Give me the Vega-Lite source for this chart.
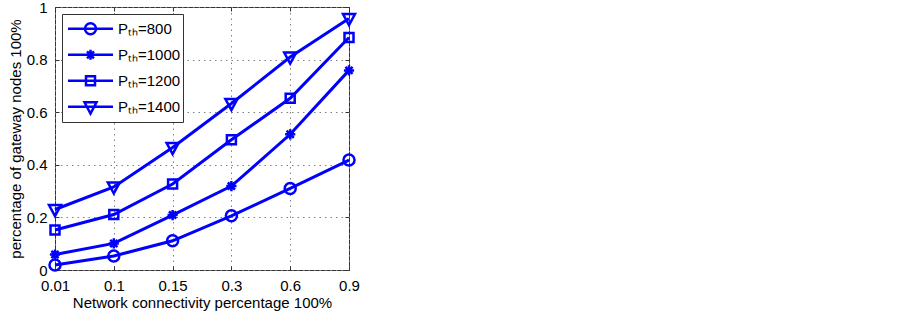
{
  "$schema": "https://vega.github.io/schema/vega-lite/v6.json",
  "autosize": {"type": "none"},
  "padding": {"left": 55, "top": 7, "right": 554, "bottom": 43},
  "width": 294,
  "height": 263,
  "background": "white",
  "config": {
    "view": {"stroke": "#333333", "strokeWidth": 1},
    "font": "Liberation Sans",
    "axis": {
      "labelFont": "Liberation Sans",
      "labelFontSize": 15,
      "labelColor": "black",
      "titleFont": "Liberation Sans",
      "titleFontSize": 15,
      "titleFontWeight": "normal",
      "titleColor": "black",
      "domain": false,
      "tickColor": "#333333",
      "tickSize": -4,
      "gridColor": "#808080",
      "gridDash": [1.5, 4],
      "gridWidth": 1
    }
  },
  "data": {
    "values": [
      {"x": "0.01", "s": "Pₜₕ=800", "y": 0.019},
      {"x": "0.1", "s": "Pₜₕ=800", "y": 0.053},
      {"x": "0.15", "s": "Pₜₕ=800", "y": 0.111},
      {"x": "0.3", "s": "Pₜₕ=800", "y": 0.206},
      {"x": "0.6", "s": "Pₜₕ=800", "y": 0.31},
      {"x": "0.9", "s": "Pₜₕ=800", "y": 0.418},
      {"x": "0.01", "s": "Pₜₕ=1000", "y": 0.059},
      {"x": "0.1", "s": "Pₜₕ=1000", "y": 0.101},
      {"x": "0.15", "s": "Pₜₕ=1000", "y": 0.209},
      {"x": "0.3", "s": "Pₜₕ=1000", "y": 0.319},
      {"x": "0.6", "s": "Pₜₕ=1000", "y": 0.516},
      {"x": "0.9", "s": "Pₜₕ=1000", "y": 0.759},
      {"x": "0.01", "s": "Pₜₕ=1200", "y": 0.152},
      {"x": "0.1", "s": "Pₜₕ=1200", "y": 0.211},
      {"x": "0.15", "s": "Pₜₕ=1200", "y": 0.327},
      {"x": "0.3", "s": "Pₜₕ=1200", "y": 0.495},
      {"x": "0.6", "s": "Pₜₕ=1200", "y": 0.653},
      {"x": "0.9", "s": "Pₜₕ=1200", "y": 0.884},
      {"x": "0.01", "s": "Pₜₕ=1400", "y": 0.23},
      {"x": "0.1", "s": "Pₜₕ=1400", "y": 0.316},
      {"x": "0.15", "s": "Pₜₕ=1400", "y": 0.466},
      {"x": "0.3", "s": "Pₜₕ=1400", "y": 0.633},
      {"x": "0.6", "s": "Pₜₕ=1400", "y": 0.81},
      {"x": "0.9", "s": "Pₜₕ=1400", "y": 0.956}
    ]
  },
  "layer": [
    {
      "mark": {"type": "line", "color": "#0000ff", "strokeWidth": 3},
      "encoding": {
        "x": {
          "field": "x", "type": "ordinal",
          "sort": ["0.01", "0.1", "0.15", "0.3", "0.6", "0.9"],
          "scale": {"type": "point", "padding": 0},
          "axis": {"labelAngle": 0, "labelPadding": 12, "title": "Network connectivity percentage 100%", "titlePadding": 2, "grid": true}
        },
        "y": {
          "field": "y", "type": "quantitative",
          "scale": {"domain": [0, 1], "nice": false},
          "axis": {"values": [0, 0.2, 0.4, 0.6, 0.8, 1], "format": "~g", "labelPadding": 12, "title": "percentage of gateway nodes 100%", "titlePadding": 3, "grid": true}
        },
        "detail": {"field": "s", "type": "nominal"}
      }
    },
    {
      "mark": {"type": "point", "color": "#0000ff", "filled": false, "strokeWidth": 2.5, "size": 144, "opacity": 1},
      "encoding": {
        "x": {"field": "x", "type": "ordinal", "sort": ["0.01", "0.1", "0.15", "0.3", "0.6", "0.9"], "axis": null},
        "y": {"field": "y", "type": "quantitative", "axis": null},
        "shape": {
          "field": "s", "type": "nominal",
          "scale": {
            "domain": ["Pₜₕ=800", "Pₜₕ=1000", "Pₜₕ=1200", "Pₜₕ=1400"],
            "range": [
              "M0.92,0A0.92,0.92 0 1,1 -0.92,0A0.92,0.92 0 1,1 0.92,0Z",
              "M-0.85,0L0.85,0M0,-0.85L0,0.85M-0.6,-0.6L0.6,0.6M-0.6,0.6L0.6,-0.6",
              "M-0.75,-0.75L0.75,-0.75L0.75,0.75L-0.75,0.75Z",
              "M-1.0,-0.75L1.0,-0.75L0,1.1Z"
            ]
          },
          "legend": null
        }
      }
    },
    {
      "mark": {"type": "point", "color": "#0000ff", "filled": false, "strokeWidth": 2.5, "opacity": 0},
      "encoding": {
        "x": {"field": "x", "type": "ordinal", "sort": ["0.01", "0.1", "0.15", "0.3", "0.6", "0.9"], "axis": null},
        "y": {"field": "y", "type": "quantitative", "axis": null},
        "shape": {
          "field": "s", "type": "nominal",
          "scale": {
            "domain": ["Pₜₕ=800", "Pₜₕ=1000", "Pₜₕ=1200", "Pₜₕ=1400"],
            "range": [
              "M-0.9,0L0.9,0M0.22,0A0.22,0.22 0 1,1 -0.22,0A0.22,0.22 0 1,1 0.22,0Z",
              "M-0.9,0L0.9,0M0,-0.2L0,0.2M-0.14,-0.14L0.14,0.14M-0.14,0.14L0.14,-0.14",
              "M-0.9,0L0.9,0M-0.18,-0.18L0.18,-0.18L0.18,0.18L-0.18,0.18Z",
              "M-0.9,0L0.9,0M-0.24,-0.18L0.24,-0.18L0,0.27Z"
            ]
          },
          "legend": {
            "title": null,
            "orient": "none",
            "legendX": 7,
            "legendY": 7,
            "padding": 2,
            "strokeColor": "#333333",
            "fillColor": "white",
            "symbolSize": 2500,
            "symbolOpacity": 1,
            "symbolStrokeColor": "#0000ff",
            "symbolFillColor": "transparent",
            "symbolStrokeWidth": 2.5,
            "clipHeight": 25.6,
            "rowPadding": 0,
            "labelFont": "Liberation Sans",
            "labelFontSize": 15,
            "labelColor": "black",
            "labelOffset": 1
          }
        }
      }
    },
    {
      "mark": {"type": "point", "opacity": 0},
      "encoding": {
        "x": {"field": "x", "type": "ordinal", "sort": ["0.01", "0.1", "0.15", "0.3", "0.6", "0.9"],
              "axis": {"orient": "top", "labels": false, "title": null, "grid": false}},
        "y": {"field": "y", "type": "quantitative",
              "axis": {"orient": "right", "values": [0, 0.2, 0.4, 0.6, 0.8, 1], "labels": false, "title": null, "grid": false}}
      }
    }
  ],
  "resolve": {
    "scale": {"shape": "independent"},
    "axis": {"x": "independent", "y": "independent"}
  }
}
